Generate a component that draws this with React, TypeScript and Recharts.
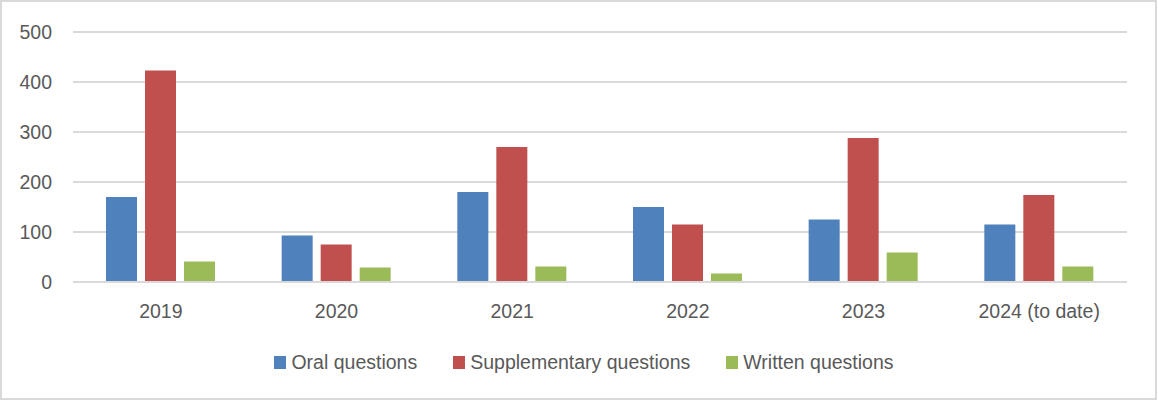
import { BarChart, Bar, XAxis, YAxis, CartesianGrid, Legend } from "recharts";

const years = ["2019", "2020", "2021", "2022", "2023", "2024 (to date)"];
const oral = [170, 93, 180, 150, 125, 115];
const supplementary = [423, 75, 270, 115, 288, 174];
const written = [41, 29, 31, 17, 59, 31];
const yTicks = [0, 100, 200, 300, 400, 500];

const data = years.map((year, i) => ({
  year,
  oral: oral[i],
  supplementary: supplementary[i],
  written: written[i],
}));

const font = "'Liberation Sans', Arial, sans-serif";
const textColor = "#595959";

const renderLegend = (props: any) => {
  const { payload = [] } = props;
  return (
    <div style={{ display: "flex", justifyContent: "center", fontFamily: font, fontSize: 19.5, color: textColor }}>
      {payload.map((entry: any) => (
        <div key={entry.value} style={{ display: "flex", alignItems: "center", margin: "0 18px" }}>
          <span style={{ width: 12, height: 13, background: entry.color, display: "inline-block", marginRight: 5 }} />
          <span>{entry.value}</span>
        </div>
      ))}
    </div>
  );
};

export default function App() {
  return (
    <div style={{ position: "absolute", left: 0, top: 0, width: 1158, height: 403, background: "#fff" }}>
      <div
        style={{
          position: "absolute",
          left: 0,
          top: 0,
          width: 1157,
          height: 400,
          border: "2px solid #d9d9d9",
          boxSizing: "border-box",
        }}
      />
      <BarChart
        width={1158}
        height={403}
        data={data}
        margin={{ top: 32, right: 31, left: 0, bottom: 29 }}
        barSize={31}
        barGap={8}
      >
        <CartesianGrid vertical={false} stroke="#d9d9d9" strokeWidth={2} />
        <XAxis
          dataKey="year"
          height={52}
          tickSize={0}
          tickMargin={22}
          axisLine={{ stroke: "#d9d9d9", strokeWidth: 2 }}
          tickLine={false}
          tick={{ fill: textColor, fontSize: 19.5, fontFamily: font }}
        />
        <YAxis
          width={73}
          domain={[0, 500]}
          ticks={yTicks}
          tickSize={0}
          tickMargin={21}
          axisLine={false}
          tickLine={false}
          tick={{ fill: textColor, fontSize: 19.5, fontFamily: font }}
        />
        <Legend
          verticalAlign="bottom"
          height={40}
          content={renderLegend}
          wrapperStyle={{ bottom: 12, left: 5, width: 1158 }}
        />
        <Bar dataKey="oral" name="Oral questions" fill="#4f81bd" isAnimationActive={false} />
        <Bar dataKey="supplementary" name="Supplementary questions" fill="#c0504d" isAnimationActive={false} />
        <Bar dataKey="written" name="Written questions" fill="#9bbb59" isAnimationActive={false} />
      </BarChart>
    </div>
  );
}
